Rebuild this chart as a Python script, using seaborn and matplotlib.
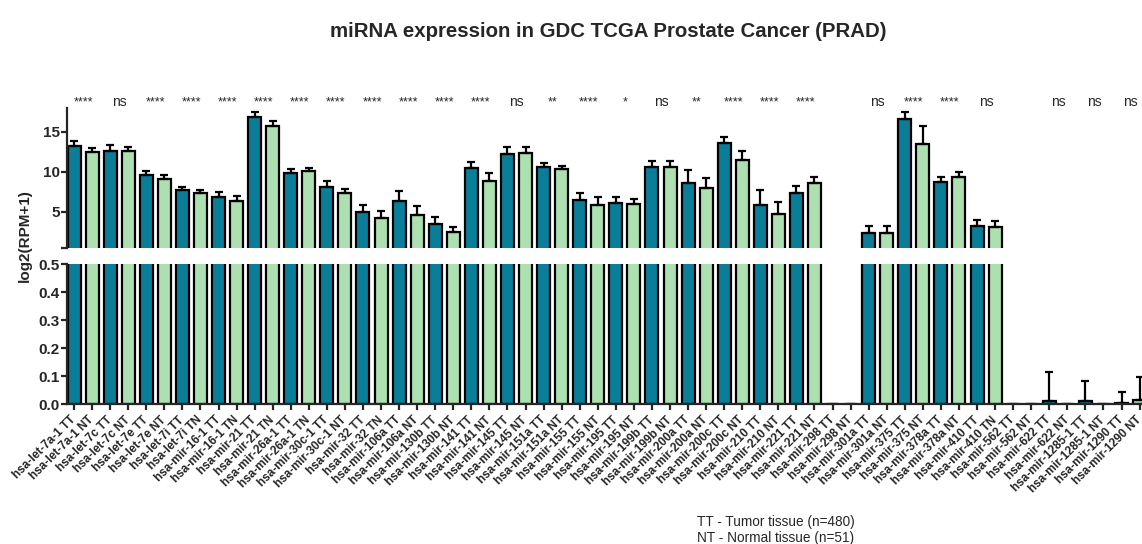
import numpy as np
import pandas as pd
import matplotlib
matplotlib.use("Agg")
from matplotlib import pyplot as plt
import seaborn as sns

# categories, in plot order (tumour / normal pairs)
categories = [
    "hsa-let-7a-1 TT", "hsa-let-7a-1 NT", "hsa-let-7c TT", "hsa-let-7c NT",
    "hsa-let-7e TT", "hsa-let-7e NT", "hsa-let-7i TT", "hsa-let-7i TN",
    "hsa-mir-16-1 TT", "hsa-mir-16-1 TN", "hsa-mir-21 TT", "hsa-mir-21 TN",
    "hsa-mir-26a-1 TT", "hsa-mir-26a-1 TN", "hsa-mir-30c-1 TT", "hsa-mir-30c-1 NT",
    "hsa-mir-32 TT", "hsa-mir-32 TN", "hsa-mir-106a TT", "hsa-mir-106a NT",
    "hsa-mir-130b TT", "hsa-mir-130b NT", "hsa-mir-141 TT", "hsa-mir-141 NT",
    "hsa-mir-145 TT", "hsa-mir-145 NT", "hsa-mir-151a TT", "hsa-mir-151a NT",
    "hsa-mir-155 TT", "hsa-mir-155 NT", "hsa-mir-195 TT", "hsa-mir-195 NT",
    "hsa-mir-199b TT", "hsa-mir-199b NT", "hsa-mir-200a TT", "hsa-mir-200a NT",
    "hsa-mir-200c TT", "hsa-mir-200c NT", "hsa-mir-210 TT", "hsa-mir-210 NT",
    "hsa-mir-221 TT", "hsa-mir-221 NT", "hsa-mir-298 TT", "hsa-mir-298 NT",
    "hsa-mir-301a TT", "hsa-mir-301a NT", "hsa-mir-375 TT", "hsa-mir-375 NT",
    "hsa-mir-378a TT", "hsa-mir-378a NT", "hsa-mir-410 TT", "hsa-mir-410 TN",
    "hsa-mir-562 TT", "hsa-mir-562 NT", "hsa-mir-622 TT", "hsa-mir-622 NT",
    "hsa-mir-1285-1 TT", "hsa-mir-1285-1 NT", "hsa-mir-1290 TT", "hsa-mir-1290 NT",
]

# mean log2(RPM+1)
means = [
    13.25, 12.5, 12.6, 12.6, 9.55, 9.1, 7.75, 7.3, 6.9, 6.35,
    16.85, 15.75, 9.9, 10.1, 8.05, 7.4, 5.0, 4.2, 6.4, 4.6,
    3.45, 2.45, 10.45, 8.8, 12.25, 12.4, 10.6, 10.4, 6.45, 5.8,
    6.15, 6.0, 10.6, 10.6, 8.55, 7.95, 13.6, 11.45, 5.9, 4.7,
    7.4, 8.6, 0.0, 0.0, 2.4, 2.3, 16.55, 13.45, 8.7, 9.3,
    3.25, 3.1, 0.0, 0.0, 0.013, 0.0, 0.011, 0.0, 0.006, 0.014,
]

# upper error (SEM)
errors = [
    0.55, 0.5, 0.7, 0.5, 0.55, 0.5, 0.35, 0.45, 0.55, 0.6,
    0.6, 0.65, 0.4, 0.35, 0.75, 0.5, 0.9, 0.85, 1.15, 1.1,
    0.85, 0.65, 0.8, 1.1, 0.85, 0.7, 0.45, 0.3, 0.95, 1.0,
    0.65, 0.6, 0.7, 0.7, 1.65, 1.25, 0.8, 1.15, 1.8, 1.5,
    0.8, 0.8, np.nan, np.nan, 0.85, 0.9, 0.85, 2.25, 0.7, 0.7,
    0.75, 0.8, np.nan, np.nan, 0.102, np.nan, 0.072, np.nan, 0.037, 0.085,
]

# significance per TT/NT pair
signif = [
    "****", "ns", "****", "****", "****", "****", "****", "****", "****", "****",
    "****", "****", "ns", "**", "****", "*", "ns", "**", "****", "****",
    "****", "", "ns", "****", "****", "ns", "", "ns", "ns", "ns",
]

groups = ["Tumor" if i % 2 == 0 else "Normal" for i in range(len(categories))]
palette = {"Tumor": "#0a7e99", "Normal": "#ade0b0"}

df = pd.DataFrame({"category": categories, "value": means, "group": groups})

sns.set_theme(style="ticks")
plt.rcParams["font.family"] = ["Liberation Sans", "DejaVu Sans"]

W, H = 1142, 544
fig = plt.figure(figsize=(W / 100, H / 100), dpi=100)
left = 66.8 / W
width = 1083.6 / W
ax_top = fig.add_axes([left, (H - 247.7) / H, width, 140 / H])
ax_bot = fig.add_axes([left, (H - 404.3) / H, width, 140 / H])

x = np.arange(len(categories))
lower_err = np.zeros(len(errors))
for ax in (ax_top, ax_bot):
    sns.barplot(data=df, x="category", y="value", hue="group", order=categories,
                palette=palette, saturation=1, dodge=False, width=0.72,
                edgecolor="black", linewidth=1.6, errorbar=None, legend=False,
                ax=ax)
    ax.errorbar(x, means, yerr=[lower_err, errors], fmt="none", ecolor="black",
                elinewidth=1.6, capsize=3, capthick=1.6)
    ax.set_xlim(-0.4, 59.6)
    ax.set_xlabel("")
    ax.set_ylabel("")
    sns.despine(ax=ax)
    ax.spines["left"].set_linewidth(1.6)
    ax.tick_params(axis="y", length=4, width=1.6, labelsize=11, pad=1)

# upper segment
ax_top.set_ylim(0.5, 18)
ax_top.set_yticks([0.5, 5, 10, 15])
ax_top.set_yticklabels(["", "5", "10", "15"], fontweight="bold")
ax_top.spines["bottom"].set_visible(False)
ax_top.tick_params(axis="x", bottom=False, labelbottom=False)
for i, s in enumerate(signif):
    fs = 10 if s == "ns" else 9
    ax_top.text(2 * i + 0.5, 18.7, s, ha="center", va="center", fontsize=fs,
                clip_on=False)

# lower segment
ax_bot.set_ylim(0, 0.5)
ticks = np.arange(0, 0.51, 0.1)
ax_bot.set_yticks(ticks)
ax_bot.set_yticklabels([f"{v:.1f}" for v in ticks], fontweight="bold")
ax_bot.spines["bottom"].set_linewidth(1.6)
ax_bot.set_xticks(x)
ax_bot.set_xticklabels(categories, rotation=45, ha="right", va="center",
                       rotation_mode="anchor", fontsize=8.5, fontweight="bold")
ax_bot.tick_params(axis="x", length=4, width=1.6, pad=6)

fig.text(0.533, 0.943, "miRNA expression in GDC TCGA Prostate Cancer (PRAD)",
         ha="center", va="center", fontsize=14.7, fontweight="bold")
fig.text(0.022, (H - 236) / H, "log2(RPM+1)", rotation=90, ha="center",
         va="center", fontsize=11, fontweight="bold")
fig.text(0.610, (H - 522) / H, "TT - Tumor tissue (n=480)", ha="left",
         va="center", fontsize=9.8)
fig.text(0.610, (H - 538) / H, "NT - Normal tissue (n=51)", ha="left",
         va="center", fontsize=9.8)

fig.savefig("out.png", dpi=100)
